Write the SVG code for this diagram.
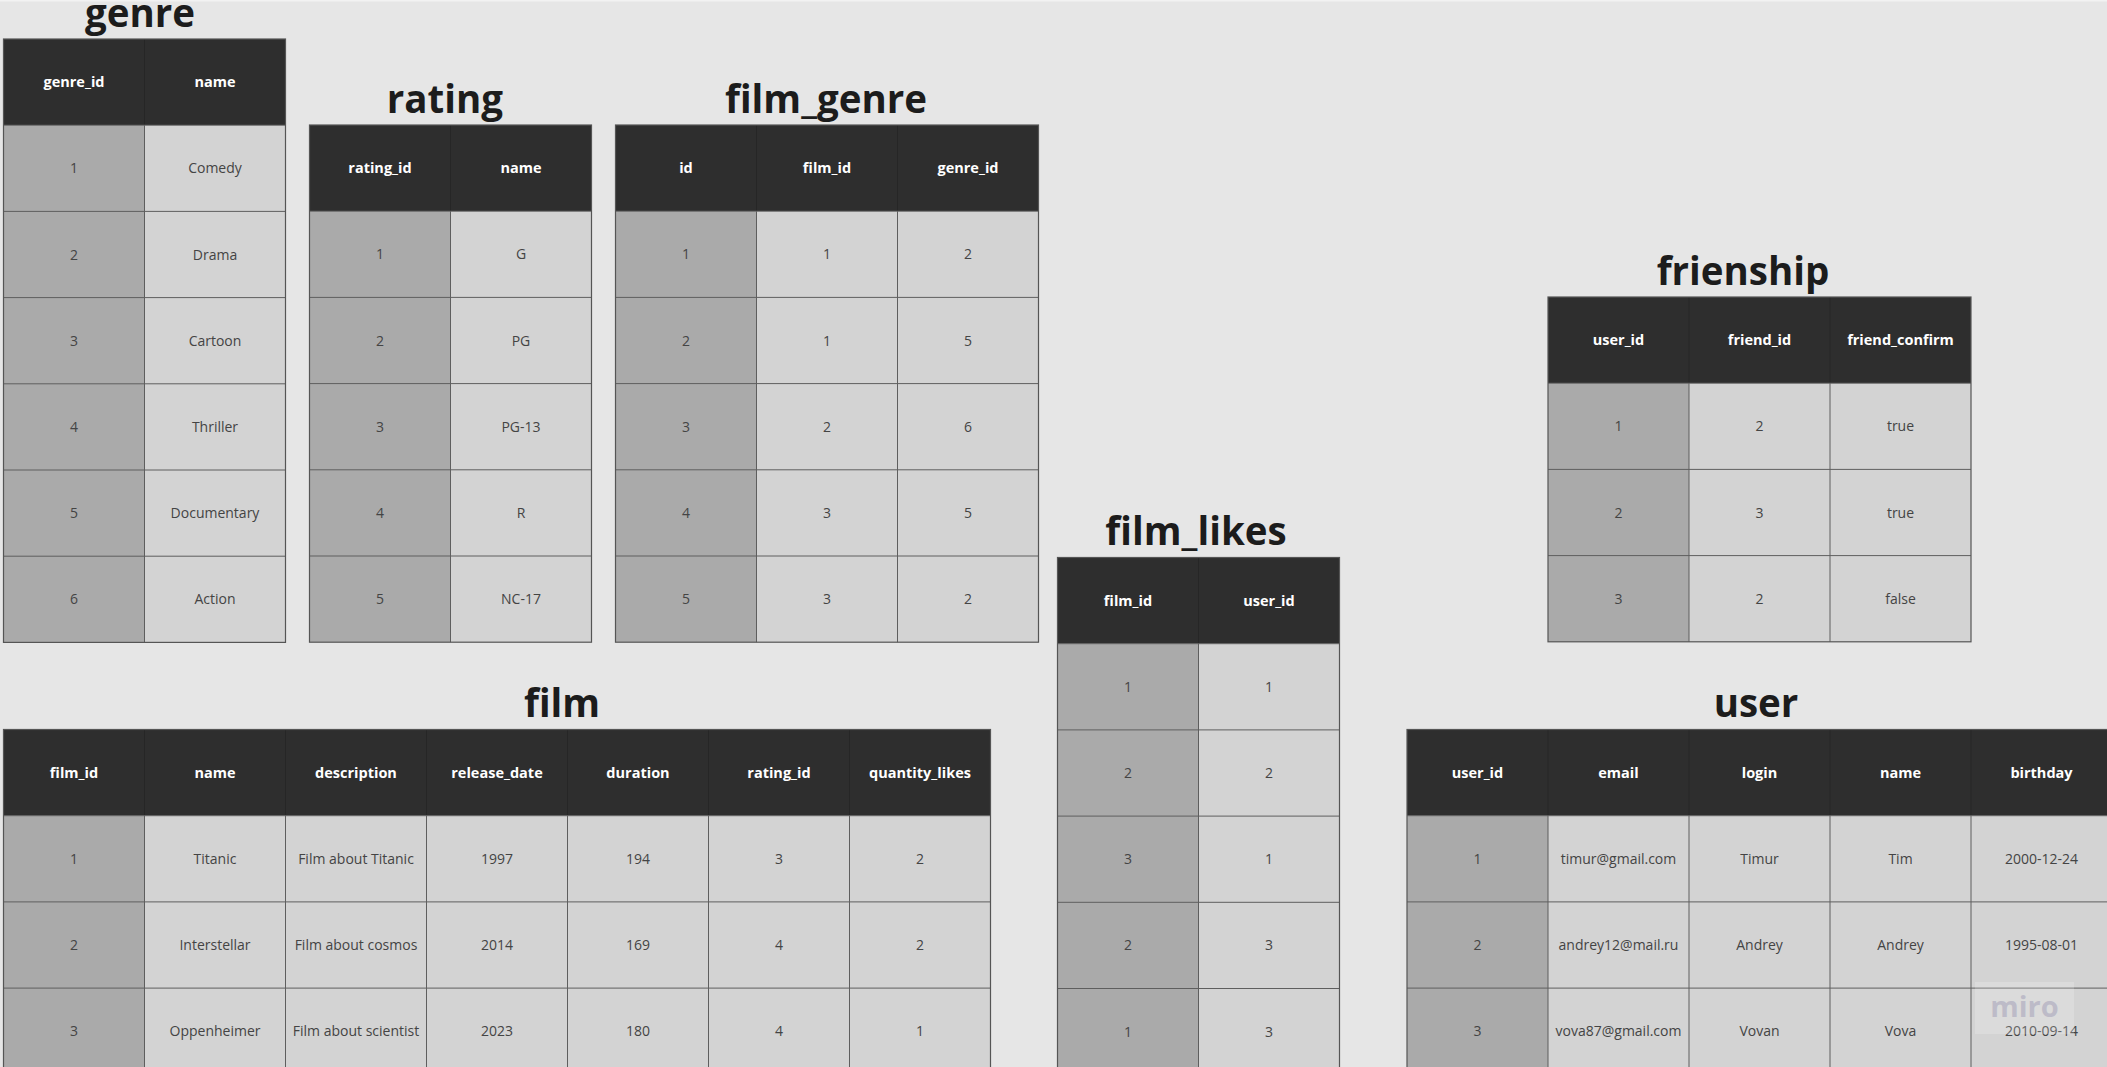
<svg xmlns="http://www.w3.org/2000/svg" width="2107" height="1067" viewBox="0 0 2107 1067">
<style>
.bg{fill:#e6e6e6}
.hd{fill:#2e2e2e}
.key{fill:#aaaaaa}
.cell{fill:#d3d3d3}
.grid{fill:none;stroke:#5e5e5e;stroke-width:1}
.hgrid{fill:none;stroke:#262626;stroke-width:1}
.frame{fill:none;stroke:#555555;stroke-width:1.2}
.title{font-family:"Open Sans","Liberation Sans",sans-serif;font-weight:700;font-size:38.5px;fill:#1c1c1c;text-anchor:middle}
.h{font-family:"Open Sans","Liberation Sans",sans-serif;font-weight:700;font-size:14.5px;fill:#ffffff;text-anchor:middle}
.v{font-family:"Open Sans","Liberation Sans",sans-serif;font-size:14px;fill:#444444;text-anchor:middle}
.wm{font-family:"Open Sans","Liberation Sans",sans-serif;font-weight:700;font-size:29px;fill:#bdbbc8;text-anchor:middle}
</style>
<rect class="bg" x="0" y="0" width="2107" height="1067"/>
<rect x="0" y="0" width="2107" height="1.5" fill="#f2f2f2"/>

<g id="genre">
<text class="title" x="140" y="27">genre</text>
<rect class="hd" x="3.5" y="39" width="282" height="86.2"/>
<rect class="key" x="3.5" y="125.2" width="141" height="517.2"/>
<rect class="cell" x="144.5" y="125.2" width="141" height="517.2"/>
<path class="hgrid" d="M144.5 39V125.2"/>
<path class="grid" d="M3.5 125.2H285.5M3.5 211.4H285.5M3.5 297.6H285.5M3.5 383.8H285.5M3.5 470H285.5M3.5 556.2H285.5M144.5 125.2V642.4"/>
<rect class="frame" x="3.5" y="39" width="282" height="603.4"/>
<text class="h" x="74" y="87.3">genre_id</text><text class="h" x="215" y="87.3">name</text>
<text class="v" x="74" y="173.3">1</text><text class="v" x="215" y="173.3">Comedy</text>
<text class="v" x="74" y="259.5">2</text><text class="v" x="215" y="259.5">Drama</text>
<text class="v" x="74" y="345.7">3</text><text class="v" x="215" y="345.7">Cartoon</text>
<text class="v" x="74" y="431.9">4</text><text class="v" x="215" y="431.9">Thriller</text>
<text class="v" x="74" y="518.1">5</text><text class="v" x="215" y="518.1">Documentary</text>
<text class="v" x="74" y="604.3">6</text><text class="v" x="215" y="604.3">Action</text>
</g>

<g id="rating">
<text class="title" x="445" y="113">rating</text>
<rect class="hd" x="309.5" y="125" width="282" height="86.2"/>
<rect class="key" x="309.5" y="211.2" width="141" height="431"/>
<rect class="cell" x="450.5" y="211.2" width="141" height="431"/>
<path class="hgrid" d="M450.5 125V211.2"/>
<path class="grid" d="M309.5 211.2H591.5M309.5 297.4H591.5M309.5 383.6H591.5M309.5 469.8H591.5M309.5 556H591.5M450.5 211.2V642.2"/>
<rect class="frame" x="309.5" y="125" width="282" height="517.2"/>
<text class="h" x="380" y="173.3">rating_id</text><text class="h" x="521" y="173.3">name</text>
<text class="v" x="380" y="259.3">1</text><text class="v" x="521" y="259.3">G</text>
<text class="v" x="380" y="345.5">2</text><text class="v" x="521" y="345.5">PG</text>
<text class="v" x="380" y="431.7">3</text><text class="v" x="521" y="431.7">PG-13</text>
<text class="v" x="380" y="517.9">4</text><text class="v" x="521" y="517.9">R</text>
<text class="v" x="380" y="604.1">5</text><text class="v" x="521" y="604.1">NC-17</text>
</g>

<g id="film_genre">
<text class="title" x="826" y="113">film_genre</text>
<rect class="hd" x="615.5" y="125" width="423" height="86.2"/>
<rect class="key" x="615.5" y="211.2" width="141" height="431"/>
<rect class="cell" x="756.5" y="211.2" width="282" height="431"/>
<path class="hgrid" d="M756.5 125V211.2M897.5 125V211.2"/>
<path class="grid" d="M615.5 211.2H1038.5M615.5 297.4H1038.5M615.5 383.6H1038.5M615.5 469.8H1038.5M615.5 556H1038.5M756.5 211.2V642.2M897.5 211.2V642.2"/>
<rect class="frame" x="615.5" y="125" width="423" height="517.2"/>
<text class="h" x="686" y="173.3">id</text><text class="h" x="827" y="173.3">film_id</text><text class="h" x="968" y="173.3">genre_id</text>
<text class="v" x="686" y="259.3">1</text><text class="v" x="827" y="259.3">1</text><text class="v" x="968" y="259.3">2</text>
<text class="v" x="686" y="345.5">2</text><text class="v" x="827" y="345.5">1</text><text class="v" x="968" y="345.5">5</text>
<text class="v" x="686" y="431.7">3</text><text class="v" x="827" y="431.7">2</text><text class="v" x="968" y="431.7">6</text>
<text class="v" x="686" y="517.9">4</text><text class="v" x="827" y="517.9">3</text><text class="v" x="968" y="517.9">5</text>
<text class="v" x="686" y="604.1">5</text><text class="v" x="827" y="604.1">3</text><text class="v" x="968" y="604.1">2</text>
</g>

<g id="frienship">
<text class="title" x="1743" y="285">frienship</text>
<rect class="hd" x="1548" y="297" width="423" height="86.2"/>
<rect class="key" x="1548" y="383.2" width="141" height="258.6"/>
<rect class="cell" x="1689" y="383.2" width="282" height="258.6"/>
<path class="hgrid" d="M1689 297V383.2M1830 297V383.2"/>
<path class="grid" d="M1548 383.2H1971M1548 469.4H1971M1548 555.6H1971M1689 383.2V641.8M1830 383.2V641.8"/>
<rect class="frame" x="1548" y="297" width="423" height="344.8"/>
<text class="h" x="1618.5" y="345.3">user_id</text><text class="h" x="1759.5" y="345.3">friend_id</text><text class="h" x="1900.5" y="345.3">friend_confirm</text>
<text class="v" x="1618.5" y="431.3">1</text><text class="v" x="1759.5" y="431.3">2</text><text class="v" x="1900.5" y="431.3">true</text>
<text class="v" x="1618.5" y="517.5">2</text><text class="v" x="1759.5" y="517.5">3</text><text class="v" x="1900.5" y="517.5">true</text>
<text class="v" x="1618.5" y="603.7">3</text><text class="v" x="1759.5" y="603.7">2</text><text class="v" x="1900.5" y="603.7">false</text>
</g>

<g id="film_likes">
<text class="title" x="1196" y="545">film_likes</text>
<rect class="hd" x="1057.5" y="557.5" width="282" height="86.2"/>
<rect class="key" x="1057.5" y="643.7" width="141" height="431"/>
<rect class="cell" x="1198.5" y="643.7" width="141" height="431"/>
<path class="hgrid" d="M1198.5 557.5V643.7"/>
<path class="grid" d="M1057.5 643.7H1339.5M1057.5 729.9H1339.5M1057.5 816.1H1339.5M1057.5 902.3H1339.5M1057.5 988.5H1339.5M1198.5 643.7V1074.7"/>
<rect class="frame" x="1057.5" y="557.5" width="282" height="517.2"/>
<text class="h" x="1128" y="605.8">film_id</text><text class="h" x="1269" y="605.8">user_id</text>
<text class="v" x="1128" y="691.8">1</text><text class="v" x="1269" y="691.8">1</text>
<text class="v" x="1128" y="778">2</text><text class="v" x="1269" y="778">2</text>
<text class="v" x="1128" y="864.2">3</text><text class="v" x="1269" y="864.2">1</text>
<text class="v" x="1128" y="950.4">2</text><text class="v" x="1269" y="950.4">3</text>
<text class="v" x="1128" y="1036.6">1</text><text class="v" x="1269" y="1036.6">3</text>
</g>

<g id="film">
<text class="title" x="562" y="717">film</text>
<rect class="hd" x="3.5" y="729.5" width="987" height="86.2"/>
<rect class="key" x="3.5" y="815.7" width="141" height="258.6"/>
<rect class="cell" x="144.5" y="815.7" width="846" height="258.6"/>
<path class="hgrid" d="M144.5 729.5V815.7M285.5 729.5V815.7M426.5 729.5V815.7M567.5 729.5V815.7M708.5 729.5V815.7M849.5 729.5V815.7"/>
<path class="grid" d="M3.5 815.7H990.5M3.5 901.9H990.5M3.5 988.1H990.5M144.5 815.7V1074.3M285.5 815.7V1074.3M426.5 815.7V1074.3M567.5 815.7V1074.3M708.5 815.7V1074.3M849.5 815.7V1074.3"/>
<rect class="frame" x="3.5" y="729.5" width="987" height="344.8"/>
<text class="h" x="74" y="777.8">film_id</text><text class="h" x="215" y="777.8">name</text><text class="h" x="356" y="777.8">description</text><text class="h" x="497" y="777.8">release_date</text><text class="h" x="638" y="777.8">duration</text><text class="h" x="779" y="777.8">rating_id</text><text class="h" x="920" y="777.8">quantity_likes</text>
<text class="v" x="74" y="863.8">1</text><text class="v" x="215" y="863.8">Titanic</text><text class="v" x="356" y="863.8">Film about Titanic</text><text class="v" x="497" y="863.8">1997</text><text class="v" x="638" y="863.8">194</text><text class="v" x="779" y="863.8">3</text><text class="v" x="920" y="863.8">2</text>
<text class="v" x="74" y="950">2</text><text class="v" x="215" y="950">Interstellar</text><text class="v" x="356" y="950">Film about cosmos</text><text class="v" x="497" y="950">2014</text><text class="v" x="638" y="950">169</text><text class="v" x="779" y="950">4</text><text class="v" x="920" y="950">2</text>
<text class="v" x="74" y="1036.2">3</text><text class="v" x="215" y="1036.2">Oppenheimer</text><text class="v" x="356" y="1036.2">Film about scientist</text><text class="v" x="497" y="1036.2">2023</text><text class="v" x="638" y="1036.2">180</text><text class="v" x="779" y="1036.2">4</text><text class="v" x="920" y="1036.2">1</text>
</g>

<g id="user">
<text class="title" x="1756" y="717">user</text>
<rect class="hd" x="1407" y="729.5" width="705" height="86.2"/>
<rect class="key" x="1407" y="815.7" width="141" height="258.6"/>
<rect class="cell" x="1548" y="815.7" width="564" height="258.6"/>
<path class="hgrid" d="M1548 729.5V815.7M1689 729.5V815.7M1830 729.5V815.7M1971 729.5V815.7"/>
<path class="grid" d="M1407 815.7H2112M1407 901.9H2112M1407 988.1H2112M1548 815.7V1074.3M1689 815.7V1074.3M1830 815.7V1074.3M1971 815.7V1074.3"/>
<rect class="frame" x="1407" y="729.5" width="705" height="344.8"/>
<text class="h" x="1477.5" y="777.8">user_id</text><text class="h" x="1618.5" y="777.8">email</text><text class="h" x="1759.5" y="777.8">login</text><text class="h" x="1900.5" y="777.8">name</text><text class="h" x="2041.5" y="777.8">birthday</text>
<text class="v" x="1477.5" y="863.8">1</text><text class="v" x="1618.5" y="863.8">timur@gmail.com</text><text class="v" x="1759.5" y="863.8">Timur</text><text class="v" x="1900.5" y="863.8">Tim</text><text class="v" x="2041.5" y="863.8">2000-12-24</text>
<text class="v" x="1477.5" y="950">2</text><text class="v" x="1618.5" y="950">andrey12@mail.ru</text><text class="v" x="1759.5" y="950">Andrey</text><text class="v" x="1900.5" y="950">Andrey</text><text class="v" x="2041.5" y="950">1995-08-01</text>
<text class="v" x="1477.5" y="1036.2">3</text><text class="v" x="1618.5" y="1036.2">vova87@gmail.com</text><text class="v" x="1759.5" y="1036.2">Vovan</text><text class="v" x="1900.5" y="1036.2">Vova</text><text class="v" x="2041.5" y="1036.2">2010-09-14</text>
</g>

<g id="watermark">
<rect x="1975" y="982" width="99" height="52" fill="#ffffff" fill-opacity="0.18"/>
<text class="wm" x="2024.5" y="1017">miro</text>
</g>
</svg>
